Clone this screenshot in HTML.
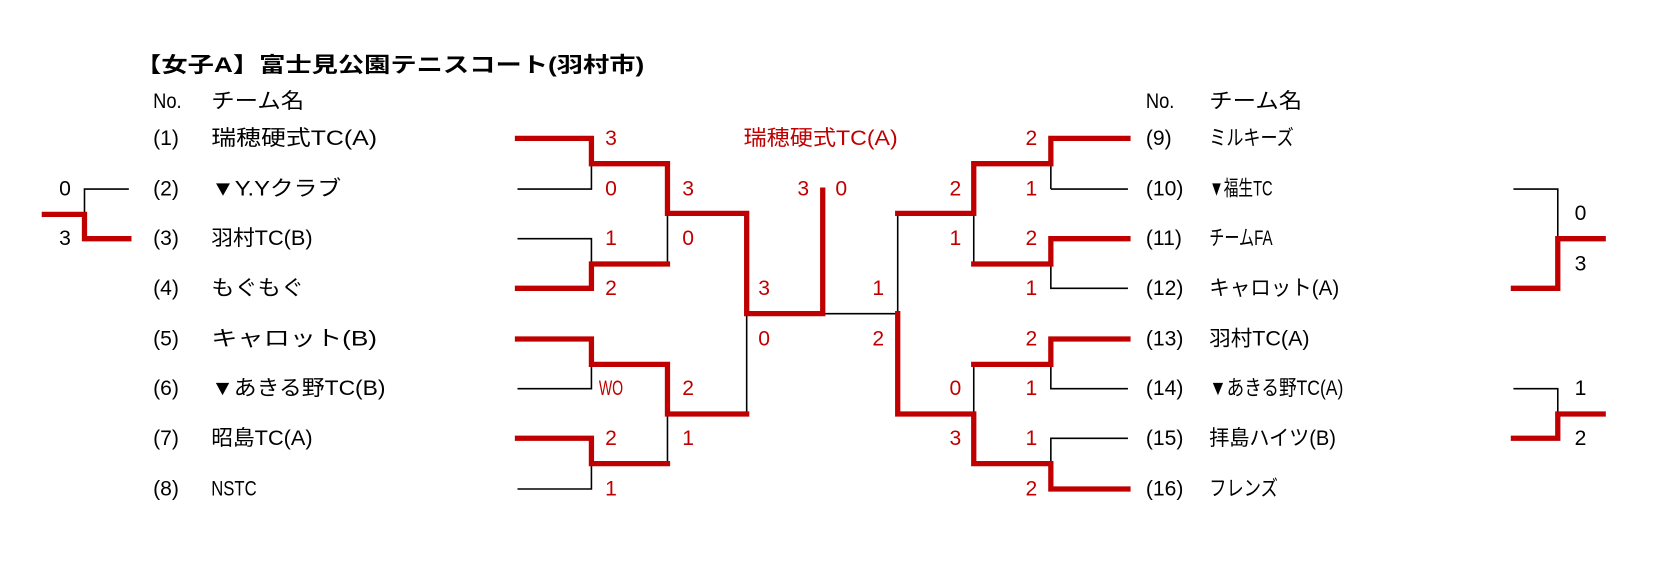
<!DOCTYPE html>
<html><head><meta charset="utf-8"><style>
html,body{margin:0;padding:0;background:#fff;}
svg{display:block;}
text{font-family:"Liberation Sans","Noto Sans CJK JP",sans-serif;fill:#000;font-size:20px;}
.r{fill:#c00000;}
</style></head><body>
<svg width="1656" height="572" viewBox="0 0 1568 541.6" preserveAspectRatio="none" xmlns="http://www.w3.org/2000/svg">
<g dominant-baseline="central">
<text x="128" y="62" font-size="22" font-weight="bold" textLength="482" lengthAdjust="spacingAndGlyphs">【女子A】富士見公園テニスコート(羽村市)</text>
<text x="145" y="96" textLength="27" lengthAdjust="spacingAndGlyphs">No.</text><text x="200" y="96" textLength="88" lengthAdjust="spacingAndGlyphs">チーム名</text>
<text x="1085" y="96" textLength="27" lengthAdjust="spacingAndGlyphs">No.</text><text x="1145" y="96" textLength="88" lengthAdjust="spacingAndGlyphs">チーム名</text>

<g font-size="21">
<text x="145" y="131">(1)</text><text x="200" y="131" textLength="157" lengthAdjust="spacingAndGlyphs">瑞穂硬式TC(A)</text>
<text x="145" y="179">(2)</text><text x="200" y="179" textLength="123" lengthAdjust="spacingAndGlyphs">▼Y.Yクラブ</text>
<text x="145" y="226">(3)</text><text x="200" y="226" textLength="96" lengthAdjust="spacingAndGlyphs">羽村TC(B)</text>
<text x="145" y="273">(4)</text><text x="200" y="273" textLength="88" lengthAdjust="spacingAndGlyphs">もぐもぐ</text>
<text x="145" y="321">(5)</text><text x="200" y="321" textLength="157" lengthAdjust="spacingAndGlyphs">キャロット(B)</text>
<text x="145" y="368">(6)</text><text x="200" y="368" textLength="165" lengthAdjust="spacingAndGlyphs">▼あきる野TC(B)</text>
<text x="145" y="415">(7)</text><text x="200" y="415" textLength="96" lengthAdjust="spacingAndGlyphs">昭島TC(A)</text>
<text x="145" y="463">(8)</text><text x="200" y="463" textLength="43" lengthAdjust="spacingAndGlyphs">NSTC</text>

<text x="1085" y="131">(9)</text><text x="1145" y="131" textLength="80" lengthAdjust="spacingAndGlyphs">ミルキーズ</text>
<text x="1085" y="179">(10)</text><text x="1145" y="179" textLength="60" lengthAdjust="spacingAndGlyphs">▼福生TC</text>
<text x="1085" y="226">(11)</text><text x="1145" y="226" textLength="60" lengthAdjust="spacingAndGlyphs">チームFA</text>
<text x="1085" y="273">(12)</text><text x="1145" y="273" textLength="123" lengthAdjust="spacingAndGlyphs">キャロット(A)</text>
<text x="1085" y="321">(13)</text><text x="1145" y="321" textLength="95" lengthAdjust="spacingAndGlyphs">羽村TC(A)</text>
<text x="1085" y="368">(14)</text><text x="1145" y="368" textLength="127" lengthAdjust="spacingAndGlyphs">▼あきる野TC(A)</text>
<text x="1085" y="415">(15)</text><text x="1145" y="415" textLength="120" lengthAdjust="spacingAndGlyphs">拝島ハイツ(B)</text>
<text x="1085" y="463">(16)</text><text x="1145" y="463" textLength="65" lengthAdjust="spacingAndGlyphs">フレンズ</text>
</g>

<g class="r">
<text class="r" x="573" y="131">3</text><text class="r" x="573" y="179">0</text>
<text class="r" x="573" y="226">1</text><text class="r" x="573" y="273">2</text>
<text class="r" x="567" y="368" textLength="23" lengthAdjust="spacingAndGlyphs">WO</text>
<text class="r" x="573" y="415">2</text><text class="r" x="573" y="463">1</text>
<text class="r" x="646" y="179">3</text><text class="r" x="646" y="226">0</text>
<text class="r" x="646" y="368">2</text><text class="r" x="646" y="415">1</text>
<text class="r" x="718" y="273">3</text><text class="r" x="718" y="321">0</text>
<text class="r" x="755" y="179">3</text><text class="r" x="791" y="179">0</text>
<text class="r" x="704" y="131" textLength="146" lengthAdjust="spacingAndGlyphs">瑞穂硬式TC(A)</text>
<text class="r" x="826" y="273">1</text><text class="r" x="826" y="321">2</text>
<text class="r" x="899" y="179">2</text><text class="r" x="899" y="226">1</text>
<text class="r" x="899" y="368">0</text><text class="r" x="899" y="415">3</text>
<text class="r" x="971" y="131">2</text><text class="r" x="971" y="179">1</text>
<text class="r" x="971" y="226">2</text><text class="r" x="971" y="273">1</text>
<text class="r" x="971" y="321">2</text><text class="r" x="971" y="368">1</text>
<text class="r" x="971" y="415">1</text><text class="r" x="971" y="463">2</text>
</g>
<text x="56" y="179">0</text><text x="56" y="226">3</text>
<text x="1491" y="202">0</text><text x="1491" y="250">3</text>
<text x="1491" y="368">1</text><text x="1491" y="415">2</text>
</g>

<g fill="none" stroke="#000" stroke-width="1.5">
<path d="M490 179H560V155"/><path d="M490 226H560V250"/>
<path d="M490 368H560V345"/><path d="M490 463H560V439"/>
<path d="M632 202V250"/><path d="M632 392V439"/>
<path d="M707 297V392"/>
<path d="M779 297H850V202"/>
<path d="M995 179V155"/><path d="M1068 179H995"/>
<path d="M1068 273H995V250"/>
<path d="M1068 368H995V345"/>
<path d="M1068 415H995V439"/>
<path d="M922 202V250"/><path d="M922 345V392"/>
<path d="M122 179H80V203"/>
<path d="M1433 179H1475V226"/>
<path d="M1433 368H1475V392"/>
</g>
<g fill="none" stroke="#c00000" stroke-width="5" stroke-linejoin="miter" stroke-linecap="square">
<path d="M490 131H560V155H632V202H707V297H779V180"/>
<path d="M490 273H560V250H632"/>
<path d="M490 321H560V345H632V392H707"/>
<path d="M490 415H560V439H632"/>
<path d="M1068 131H995V155H922V202H850"/>
<path d="M1068 226H995V250H922"/>
<path d="M1068 321H995V345H922"/>
<path d="M1068 463H995V439H922V392H850V297"/>
<path d="M42 203H80V226H122"/>
<path d="M1518 226H1475V273H1433"/>
<path d="M1518 392H1475V415H1433"/>
</g>
</svg>
</body></html>
